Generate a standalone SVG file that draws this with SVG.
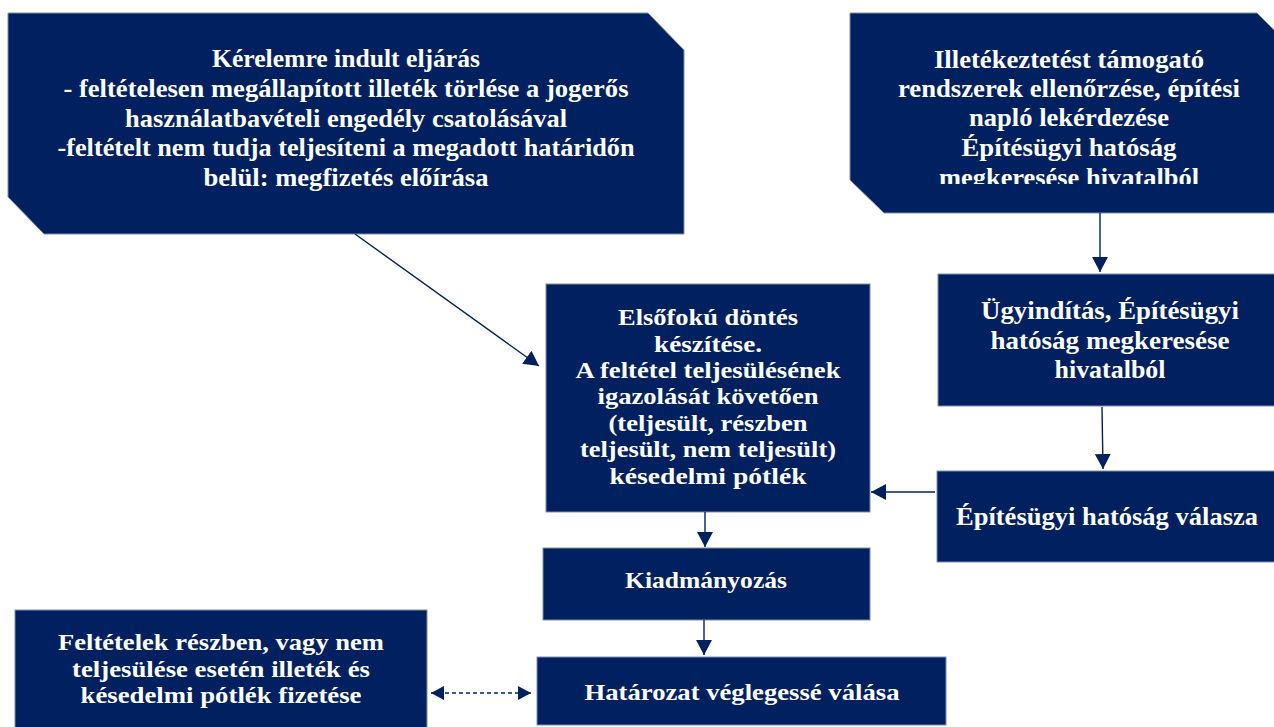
<svg xmlns="http://www.w3.org/2000/svg" width="1274" height="727" viewBox="0 0 1274 727">
<style>
.box{fill:#002060;stroke:#7f8db0;stroke-width:1}
.t{font-family:"Liberation Serif","Times New Roman",serif;font-weight:bold;fill:#ffffff;text-anchor:middle}
.s24{font-size:25px}
.s22{font-size:23px}
.c{stroke:#002060;stroke-width:1.4;fill:none}
.d{stroke-dasharray:4,3}
</style>
<defs>
<marker id="ah" markerUnits="userSpaceOnUse" markerWidth="16" markerHeight="16" refX="15" refY="8" orient="auto-start-reverse"><path d="M0,0 L15,8 L0,16 z" fill="#002060"/></marker>
<marker id="ahs" markerUnits="userSpaceOnUse" markerWidth="14" markerHeight="14" refX="13" refY="7" orient="auto-start-reverse"><path d="M0,0 L13,7 L0,14 z" fill="#002060"/></marker>
<clipPath id="clip2"><rect x="850" y="13" width="424" height="171"/></clipPath>
</defs>
<rect width="1274" height="727" fill="#ffffff"/>

<g id="n1">
<polygon class="box" points="8,13 648,13 684,50 684,234 44,234 8,197"/>
<text class="t s24" x="346" y="67" textLength="268" lengthAdjust="spacingAndGlyphs">Kérelemre indult eljárás</text>
<text class="t s24" x="346" y="97" textLength="565" lengthAdjust="spacingAndGlyphs">- feltételesen megállapított illeték törlése a jogerős</text>
<text class="t s24" x="346" y="127" textLength="442" lengthAdjust="spacingAndGlyphs">használatbavételi engedély csatolásával</text>
<text class="t s24" x="346" y="156" textLength="577" lengthAdjust="spacingAndGlyphs">-feltételt nem tudja teljesíteni a megadott határidőn</text>
<text class="t s24" x="346" y="186" textLength="285" lengthAdjust="spacingAndGlyphs">belül: megfizetés előírása</text>
</g>

<g id="n2">
<polygon class="box" points="850,13 1257,13 1290,46 1290,213 884,213 850,180"/>
<g clip-path="url(#clip2)">
<text class="t s24" x="1069" y="68" textLength="270" lengthAdjust="spacingAndGlyphs">Illetékeztetést támogató</text>
<text class="t s24" x="1069" y="97" textLength="342" lengthAdjust="spacingAndGlyphs">rendszerek ellenőrzése, építési</text>
<text class="t s24" x="1069" y="126" textLength="200" lengthAdjust="spacingAndGlyphs">napló lekérdezése</text>
<text class="t s24" x="1069" y="156" textLength="215" lengthAdjust="spacingAndGlyphs">Építésügyi hatóság</text>
<text class="t s24" x="1069" y="186" textLength="260" lengthAdjust="spacingAndGlyphs">megkeresése hivatalból</text>
</g>
</g>

<g id="n3">
<rect class="box" x="546" y="284" width="324" height="228"/>
<text class="t s22" x="708" y="325" textLength="180" lengthAdjust="spacingAndGlyphs">Elsőfokú döntés</text>
<text class="t s22" x="708" y="352" textLength="108" lengthAdjust="spacingAndGlyphs">készítése.</text>
<text class="t s22" x="708" y="378" textLength="265" lengthAdjust="spacingAndGlyphs">A feltétel teljesülésének</text>
<text class="t s22" x="708" y="404" textLength="221" lengthAdjust="spacingAndGlyphs">igazolását követően</text>
<text class="t s22" x="708" y="431" textLength="199" lengthAdjust="spacingAndGlyphs">(teljesült, részben</text>
<text class="t s22" x="708" y="457" textLength="256" lengthAdjust="spacingAndGlyphs">teljesült, nem teljesült)</text>
<text class="t s22" x="708" y="484" textLength="197" lengthAdjust="spacingAndGlyphs">késedelmi pótlék</text>
</g>

<g id="n4">
<rect class="box" x="938" y="274" width="340" height="132"/>
<text class="t s24" x="1110" y="319" textLength="258" lengthAdjust="spacingAndGlyphs">Ügyindítás, Építésügyi</text>
<text class="t s24" x="1110" y="349" textLength="239" lengthAdjust="spacingAndGlyphs">hatóság megkeresése</text>
<text class="t s24" x="1110" y="378" textLength="111" lengthAdjust="spacingAndGlyphs">hivatalból</text>
</g>

<g id="n5">
<rect class="box" x="937" y="471" width="341" height="91"/>
<text class="t s24" x="1107" y="525" textLength="302" lengthAdjust="spacingAndGlyphs">Építésügyi hatóság válasza</text>
</g>

<g id="n6">
<rect class="box" x="543" y="548" width="327" height="72"/>
<text class="t s22" x="706" y="588" textLength="162" lengthAdjust="spacingAndGlyphs">Kiadmányozás</text>
</g>

<g id="n7">
<rect class="box" x="537" y="657" width="409" height="68"/>
<text class="t s22" x="742" y="700" textLength="315" lengthAdjust="spacingAndGlyphs">Határozat véglegessé válása</text>
</g>

<g id="n8">
<rect class="box" x="15" y="610" width="412" height="120"/>
<text class="t s22" x="221" y="650" textLength="326" lengthAdjust="spacingAndGlyphs">Feltételek részben, vagy nem</text>
<text class="t s22" x="221" y="677" textLength="298" lengthAdjust="spacingAndGlyphs">teljesülése esetén illeték és</text>
<text class="t s22" x="221" y="703" textLength="281" lengthAdjust="spacingAndGlyphs">késedelmi pótlék fizetése</text>
</g>

<g id="connectors">
<line class="c" x1="355" y1="234" x2="539" y2="366" marker-end="url(#ah)"/>
<line class="c" x1="1100" y1="213" x2="1100" y2="272" marker-end="url(#ah)"/>
<line class="c" x1="1102" y1="407" x2="1103" y2="469" marker-end="url(#ah)"/>
<line class="c" x1="935" y1="492" x2="871" y2="492" marker-end="url(#ah)"/>
<line class="c" x1="705" y1="512" x2="705" y2="547" marker-end="url(#ah)"/>
<line class="c" x1="704" y1="620" x2="704" y2="655" marker-end="url(#ah)"/>
<line class="c d" x1="431" y1="693" x2="531" y2="693" marker-start="url(#ahs)" marker-end="url(#ahs)"/>
</g>
</svg>
